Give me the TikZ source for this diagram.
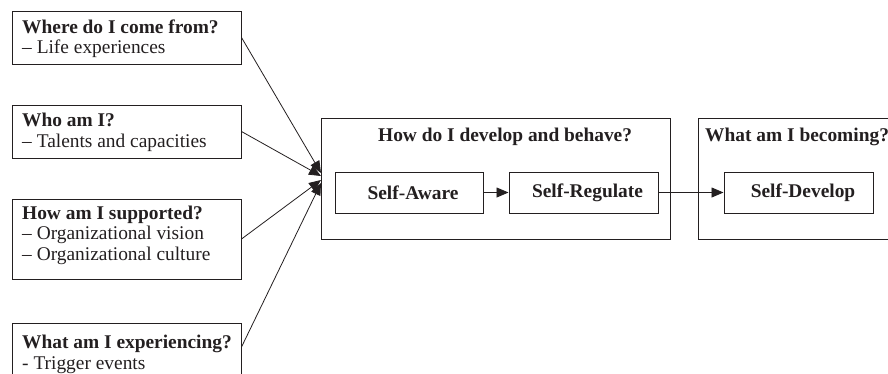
\documentclass[tikz,border=0pt]{standalone}
\usepackage{fontspec}
\setmainfont{Liberation Serif}
\usetikzlibrary{arrows.meta}
\definecolor{ink}{HTML}{231F20}
\begin{document}
\begin{tikzpicture}[x=1pt,y=-1pt,
  every node/.style={font=\fontsize{19.4}{21}\selectfont, text=ink},
  box/.style={draw=ink, line width=1pt, inner sep=0pt, rectangle},
  lbl/.style={anchor=base west, inner sep=0pt},
  conn/.style={draw=ink, line width=0.8pt, -{Triangle[length=12pt,width=10pt]}}]
\useasboundingbox (0,0) rectangle (888,373);
\clip (0,0) rectangle (888,373);
% left boxes
\node[box, minimum width=229pt, minimum height=53pt] (b1) at (126.5,37.5) {};
\node[box, minimum width=229pt, minimum height=53pt] (b2) at (126.5,131.5) {};
\node[box, minimum width=229pt, minimum height=80pt] (b3) at (126.5,239) {};
\node[box, minimum width=229pt, minimum height=60pt] (b4) at (126.5,353) {};
\node[lbl] (t1a) at (22,33.3) {\textbf{Where do I come from?}};
\node[lbl] (t1b) at (22,53.3) {– Life experiences};
\node[lbl] (t2a) at (22,126.5) {\textbf{Who am I?}};
\node[lbl] (t2b) at (22,147) {– Talents and capacities};
\node[lbl] (t3a) at (22,219) {\textbf{How am I supported?}};
\node[lbl] (t3b) at (22,239.5) {– Organizational vision};
\node[lbl] (t3c) at (22,260) {– Organizational culture};
\node[lbl] (t4a) at (22,348.3) {\textbf{What am I experiencing?}};
\node[lbl] (t4b) at (22,369) {- Trigger events};
% big boxes
\node[box, minimum width=349pt, minimum height=121pt] (big) at (495.5,178.5) {};
\node[box, minimum width=220pt, minimum height=121pt] (rgt) at (808,178.5) {};
\node[lbl] (ttl1) at (378,141) {\textbf{How do I develop and behave?}};
\node[lbl] (ttl2) at (705,141) {\textbf{What am I becoming?}};
% inner boxes
\node[box, minimum width=148pt, minimum height=41pt] (sa) at (409,192.5) {\hspace*{8pt}\textbf{Self-Aware}};
\node[box, minimum width=149pt, minimum height=41pt] (sr) at (583.5,192.5) {\hspace*{8pt}\textbf{Self-Regulate}};
\node[box, minimum width=149pt, minimum height=41pt] (sd) at (798.5,192.5) {\hspace*{9pt}\textbf{Self-Develop}};
% convergence points
\coordinate (e1) at (321,173);
\coordinate (e2) at (321,176);
\coordinate (e3) at (321,180);
\coordinate (e4) at (321,183);
\draw[conn] (b1.east) -- (e1);
\draw[conn] (b2.east) -- (e2);
\draw[conn] (b3.east) -- (e3);
\draw[conn] ([yshift=6pt]b4.east) -- (e4);
\draw[conn] (sa.east) -- (sr.west);
\draw[conn] (sr.east) -- (sd.west);
\end{tikzpicture}
\end{document}
